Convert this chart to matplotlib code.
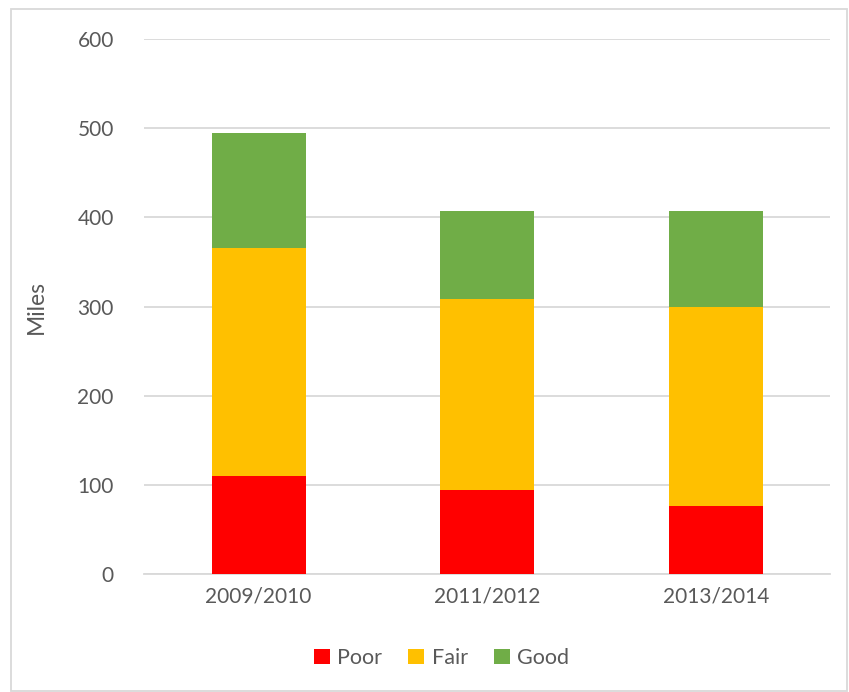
import matplotlib.pyplot as plt
import numpy as np
from matplotlib.patches import Rectangle

years = ['2009/2010', '2011/2012', '2013/2014']
poor = np.array([110, 94, 76])
fair = np.array([256, 214, 223])
good = np.array([129, 99, 108])

plt.rcParams['font.family'] = ['Lato', 'DejaVu Sans']

fig = plt.figure(figsize=(8.49, 6.92), dpi=100)
ax = fig.add_axes([0.170, 0.1705, 0.808, 0.773])

x = np.arange(len(years))
w = 0.41
ax.bar(x, poor, w, color='#ff0000', label='Poor', zorder=3)
ax.bar(x, fair, w, bottom=poor, color='#ffc000', label='Fair', zorder=3)
ax.bar(x, good, w, bottom=poor + fair, color='#70ad47', label='Good', zorder=3)

ax.set_xlim(-0.5, 2.5)
ax.set_ylim(0, 600)
ax.set_yticks(range(0, 601, 100))
ax.set_xticks(x)
ax.set_xticklabels(years)
ax.grid(axis='y', color='#d9d9d9', linewidth=1.3, zorder=0)
for s in ['top', 'right', 'left']:
    ax.spines[s].set_visible(False)
ax.spines['bottom'].set_color('#d9d9d9')
ax.spines['bottom'].set_linewidth(1.3)
ax.tick_params(axis='both', length=0, labelsize=15, labelcolor='#595959')
ax.tick_params(axis='y', pad=22)
ax.tick_params(axis='x', pad=9)
ax.set_ylabel('Miles', fontsize=16.5, color='#595959', labelpad=22)

fig.legend(loc='center', bbox_to_anchor=(0.52, 0.049), ncol=3, frameon=False,
           fontsize=15.5, labelcolor='#595959', handlelength=0.75, handleheight=0.75,
           handletextpad=0.35, columnspacing=1.2)

fig.patches.append(Rectangle((0.013, 0.002), 0.985, 0.985, transform=fig.transFigure,
                             fill=False, edgecolor='#d9d9d9', linewidth=1.3))

fig.savefig('out.png')
